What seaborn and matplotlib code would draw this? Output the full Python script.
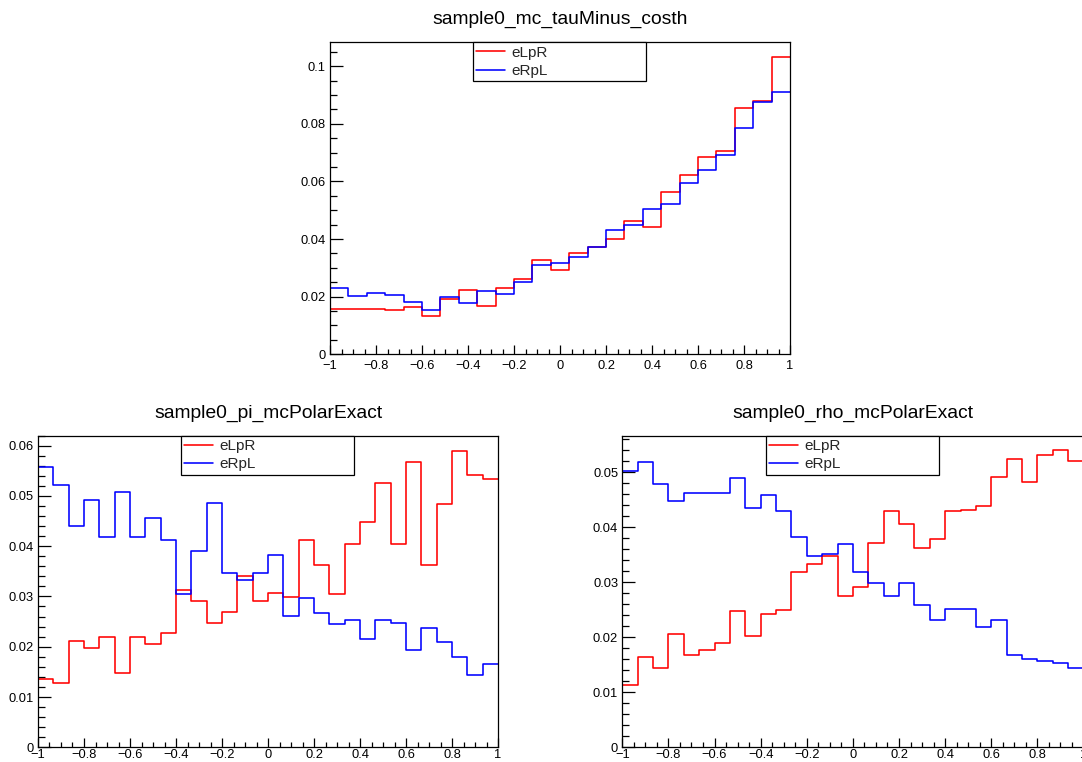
import numpy as np
import pandas as pd
import matplotlib
matplotlib.use("Agg")
import matplotlib.pyplot as plt
import seaborn as sns
from matplotlib.ticker import MultipleLocator, FuncFormatter
from matplotlib.lines import Line2D

sns.set_theme(style="white")
plt.rcParams['font.family'] = ['Liberation Sans', 'DejaVu Sans']

# ---------------- data ----------------
series_names = ["eLpR", "eRpL"]
series_colors = ["#ff0000", "#0000ff"]

# sample0_mc_tauMinus_costh : 25 bins on [-1, 1]
costh_nbins = 25
costh_eLpR = [0.0156, 0.0156, 0.0156, 0.0153, 0.0164, 0.0133, 0.0192, 0.0223, 0.0167, 0.0230,
              0.0260, 0.0329, 0.0292, 0.0353, 0.0374, 0.0401, 0.0464, 0.0441, 0.0562, 0.0621,
              0.0684, 0.0707, 0.0854, 0.0878, 0.1031]
costh_eRpL = [0.0230, 0.0203, 0.0213, 0.0206, 0.0181, 0.0155, 0.0198, 0.0177, 0.0220, 0.0210,
              0.0250, 0.0311, 0.0317, 0.0339, 0.0374, 0.0433, 0.0449, 0.0503, 0.0520, 0.0595,
              0.0640, 0.0692, 0.0785, 0.0875, 0.0911]

# sample0_pi_mcPolarExact : 30 bins on [-1, 1]
pi_nbins = 30
pi_eLpR = [0.0135, 0.0127, 0.0212, 0.0198, 0.0219, 0.0148, 0.0219, 0.0205, 0.0228, 0.0312,
           0.0291, 0.0248, 0.0269, 0.0341, 0.0291, 0.0306, 0.0298, 0.0413, 0.0362, 0.0305,
           0.0405, 0.0448, 0.0526, 0.0405, 0.0568, 0.0362, 0.0484, 0.0590, 0.0541, 0.0533]
pi_eRpL = [0.0557, 0.0522, 0.0441, 0.0492, 0.0419, 0.0507, 0.0419, 0.0456, 0.0413, 0.0304,
           0.0390, 0.0485, 0.0347, 0.0332, 0.0347, 0.0383, 0.0261, 0.0296, 0.0267, 0.0246,
           0.0253, 0.0216, 0.0253, 0.0247, 0.0194, 0.0237, 0.0210, 0.0180, 0.0144, 0.0165]

# sample0_rho_mcPolarExact : 30 bins on [-1, 1]
rho_nbins = 30
rho_eLpR = [0.0113, 0.0165, 0.0145, 0.0206, 0.0167, 0.0177, 0.0190, 0.0247, 0.0202, 0.0242,
            0.0250, 0.0318, 0.0333, 0.0348, 0.0276, 0.0292, 0.0371, 0.0429, 0.0406, 0.0362,
            0.0378, 0.0429, 0.0432, 0.0438, 0.0492, 0.0524, 0.0482, 0.0532, 0.0540, 0.0521]
rho_eRpL = [0.0502, 0.0518, 0.0478, 0.0447, 0.0462, 0.0462, 0.0462, 0.0490, 0.0436, 0.0458,
            0.0430, 0.0383, 0.0348, 0.0352, 0.0370, 0.0319, 0.0298, 0.0276, 0.0298, 0.0258,
            0.0232, 0.0251, 0.0251, 0.0219, 0.0232, 0.0168, 0.0160, 0.0157, 0.0154, 0.0144]

x_range = (-1.0, 1.0)

# ---------------- figure ----------------
W, H = 1082, 762
fig = plt.figure(figsize=(W / 100, H / 100), dpi=100)
fig.patch.set_facecolor("white")


def px_axes(x0, y0, x1, y1):
    return fig.add_axes([x0 / W, (H - y1) / H, (x1 - x0) / W, (y1 - y0) / H])


def fmt(v, pos):
    if abs(v) < 1e-12:
        return "0"
    s = "%g" % v
    return s.replace("-", "\u2212")


def draw(ax, nbins, red, blue, title, ymax, ymajor, yminor, xpad):
    edges = [float(e) for e in np.linspace(x_range[0], x_range[1], nbins + 1)]
    centers = [0.5 * (a + b) for a, b in zip(edges[:-1], edges[1:])]
    for vals, name, col in zip([red, blue], series_names, series_colors):
        df = pd.DataFrame({"x": centers, "w": vals})
        sns.histplot(data=df, x="x", weights="w", bins=edges, element="step",
                     fill=False, color=col, linewidth=1.15, ax=ax, label=name)
    ax.set_xlim(*x_range)
    ax.set_ylim(0, ymax)
    ax.set_xlabel("")
    ax.set_ylabel("")
    ax.set_title(title, fontsize=13.9, pad=13, color="black")
    ax.xaxis.set_major_locator(MultipleLocator(0.2))
    ax.xaxis.set_minor_locator(MultipleLocator(0.05))
    ax.yaxis.set_major_locator(MultipleLocator(ymajor))
    ax.yaxis.set_minor_locator(MultipleLocator(yminor))
    ax.xaxis.set_major_formatter(FuncFormatter(fmt))
    ax.yaxis.set_major_formatter(FuncFormatter(fmt))
    ax.tick_params(axis="both", which="both", direction="in", bottom=True, left=True,
                   top=False, right=False, colors="black", labelsize=9.3, width=0.9)
    ax.tick_params(axis="y", which="major", length=9.5, pad=3)
    ax.tick_params(axis="y", which="minor", length=4.8)
    ax.tick_params(axis="x", which="major", length=6.5, pad=xpad)
    ax.tick_params(axis="x", which="minor", length=3.5)
    for sp in ax.spines.values():
        sp.set_color("black")
        sp.set_linewidth(0.9)
    ax.grid(False)
    handles = [Line2D([], [], color=c, linewidth=1.15) for c in series_colors]
    leg = ax.legend(handles, series_names, loc="upper left",
                    bbox_to_anchor=(0.311, 0.876, 0.376, 0.124), mode="expand",
                    borderaxespad=0, frameon=True, fancybox=False, framealpha=1,
                    edgecolor="black", fontsize=11, handlelength=1.9,
                    handletextpad=0.4, labelspacing=0.29, borderpad=0.22)
    leg.get_frame().set_linewidth(0.9)


ax_top = px_axes(330, 42.3, 790, 354.3)
draw(ax_top, costh_nbins, costh_eLpR, costh_eRpL, "sample0_mc_tauMinus_costh",
     0.1083, 0.02, 0.005, 4)

ax_bl = px_axes(38, 435.5, 498, 747.3)
draw(ax_bl, pi_nbins, pi_eLpR, pi_eRpL, "sample0_pi_mcPolarExact", 0.0620, 0.01, 0.002, 1.5)

ax_br = px_axes(622.3, 435.5, 1083.5, 747.3)
draw(ax_br, rho_nbins, rho_eLpR, rho_eRpL, "sample0_rho_mcPolarExact", 0.0567, 0.01, 0.002, 1.5)

fig.savefig("out.png", dpi=100, facecolor="white")
